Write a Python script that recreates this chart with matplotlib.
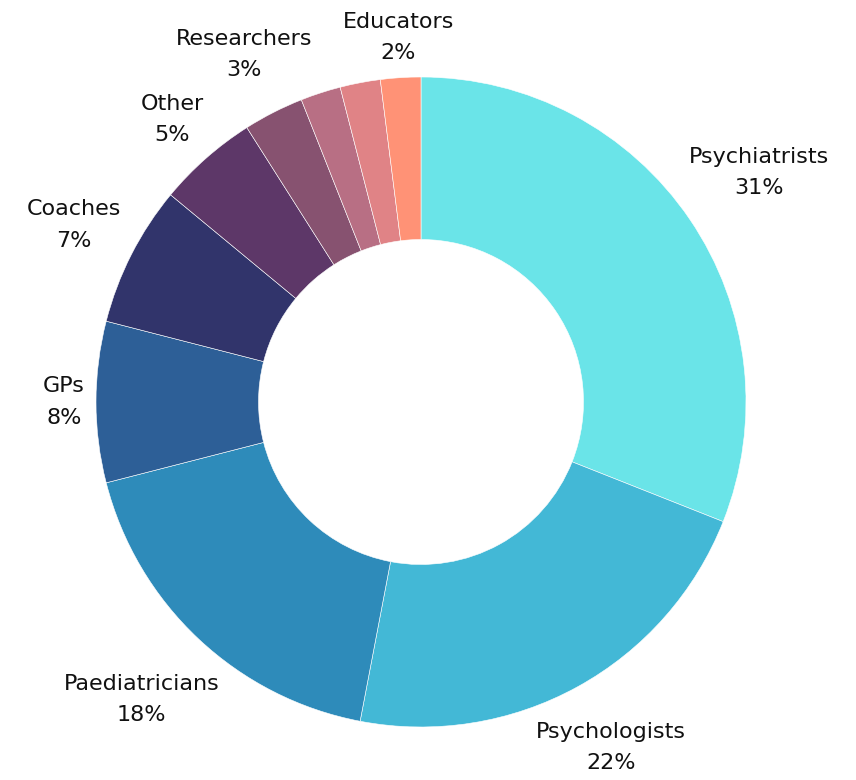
import numpy as np
import matplotlib
matplotlib.use("Agg")
import matplotlib.pyplot as plt

# slices, clockwise from 12 o'clock; two small slices carry no label
labels = ["Psychiatrists", "Psychologists", "Paediatricians", "GPs", "Coaches",
          "Other", "Researchers", None, None, "Educators"]
shares = [31, 22, 18, 8, 7, 5, 3, 2, 2, 2]
colors = ["#6AE4E8", "#43B8D6", "#2E8BBA", "#2D5F97", "#31346B",
          "#5D3768", "#875270", "#B86F84", "#E08386", "#FF9276"]

W, H, DPI = 856, 780, 100
CX, CY, R = 421, 402, 325   # pie centre / radius in pixels (y from top)

plt.rcParams["font.family"] = ["DejaVu Sans"]

fig = plt.figure(figsize=(W / DPI, H / DPI), dpi=DPI)
ax = fig.add_axes([0, 0, 1, 1])

wedges, _ = ax.pie(shares, colors=colors, startangle=90, counterclock=False,
                   radius=1, wedgeprops=dict(width=0.5, edgecolor="white", linewidth=0.4))
ax.set_aspect("auto")
ax.set_xlim(-CX / R, (W - CX) / R)
ax.set_ylim(-(H - CY) / R, CY / R)
ax.axis("off")

fig.canvas.draw()
renderer = fig.canvas.get_renderer()
gap = 11 / R

# labels sit outside the ring, box pushed out along the slice's mid-angle
for w, lab, val in zip(wedges, labels, shares):
    if lab is None:
        continue
    ang = np.deg2rad((w.theta1 + w.theta2) / 2)
    ux, uy = np.cos(ang), np.sin(ang)
    t = ax.text(0, 0, f"{lab}\n{val}%", ha="center", va="center",
                fontsize=16, color="#111111", linespacing=1.7)
    bb = t.get_window_extent(renderer)
    hw = bb.width / 2 / R
    hh = bb.height / 2 / R
    d = 1 + gap + abs(ux) * hw + abs(uy) * hh
    t.set_position((d * ux, d * uy))

fig.savefig("out.png", dpi=DPI)
